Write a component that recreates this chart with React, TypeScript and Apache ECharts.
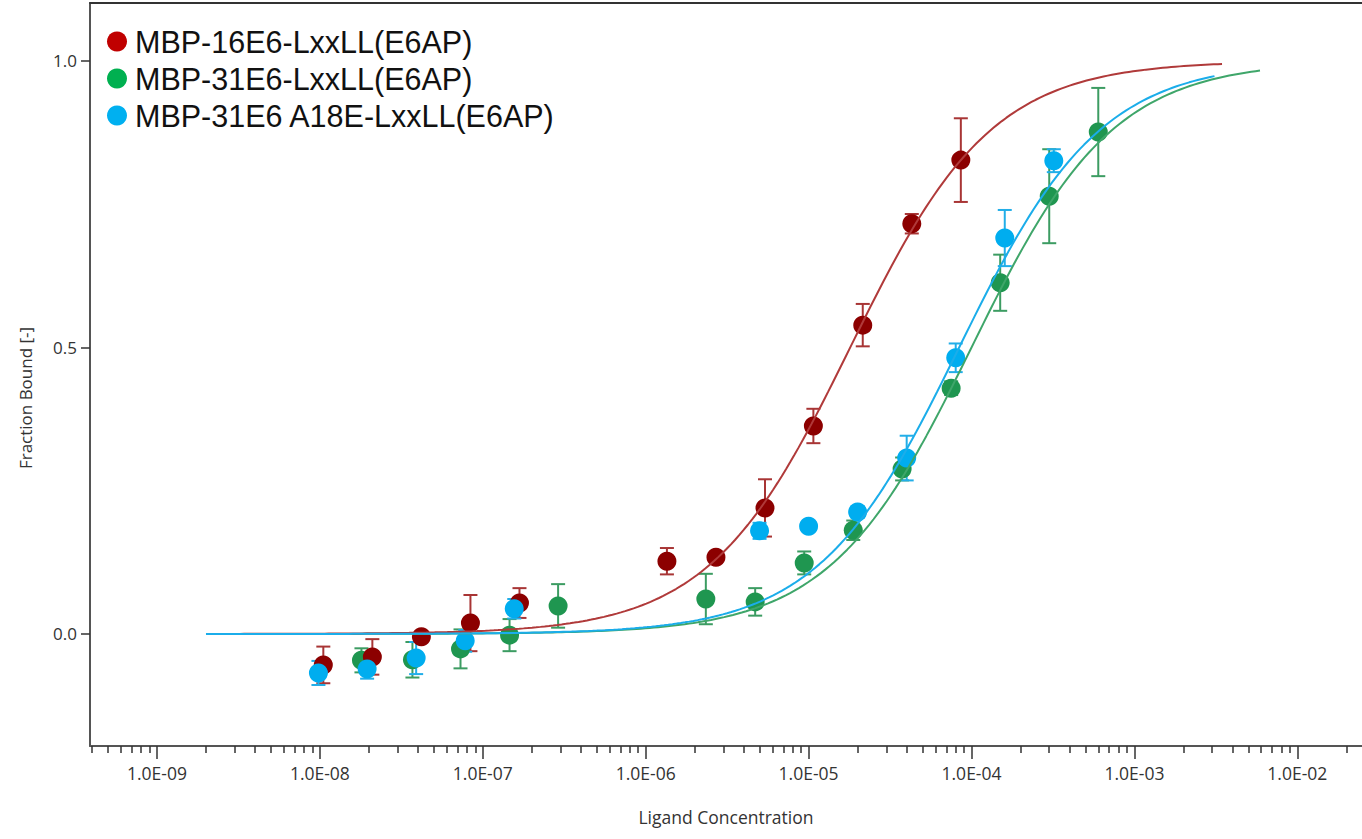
import React, { useEffect, useRef } from "react";
import * as echarts from "echarts";

const seriesNames = ["MBP-16E6-LxxLL(E6AP)", "MBP-31E6-LxxLL(E6AP)", "MBP-31E6 A18E-LxxLL(E6AP)"];

const redConc = [1.05e-8, 2.1e-8, 4.2e-8, 8.4e-8, 1.68e-7, 1.35e-6, 2.7e-6, 5.4e-6, 1.07e-5, 2.15e-5, 4.3e-5, 8.6e-5];
const redFrac = [-0.054, -0.04, -0.005, 0.019, 0.054, 0.127, 0.134, 0.22, 0.363, 0.539, 0.716, 0.827];
const redErr = [0.032, 0.031, 0.008, 0.049, 0.026, 0.023, 0.006, 0.05, 0.03, 0.037, 0.017, 0.073];

const greenConc = [1.8e-8, 3.7e-8, 7.3e-8, 1.46e-7, 2.9e-7, 2.34e-6, 4.7e-6, 9.4e-6, 1.88e-5, 3.75e-5, 7.5e-5, 1.5e-4, 3.0e-4, 6.0e-4];
const greenFrac = [-0.046, -0.045, -0.026, -0.002, 0.049, 0.061, 0.056, 0.124, 0.181, 0.288, 0.429, 0.613, 0.764, 0.876];
const greenErr = [0.021, 0.031, 0.034, 0.028, 0.038, 0.044, 0.024, 0.02, 0.017, 0.02, 0.012, 0.049, 0.082, 0.077];

const blueConc = [9.8e-9, 1.95e-8, 3.9e-8, 7.8e-8, 1.56e-7, 5.0e-6, 1.0e-5, 2.0e-5, 4.0e-5, 8.0e-5, 1.6e-4, 3.2e-4];
const blueFrac = [-0.068, -0.061, -0.042, -0.012, 0.044, 0.18, 0.188, 0.213, 0.307, 0.482, 0.691, 0.826];
const blueErr = [0.021, 0.017, 0.028, 0.019, 0.017, 0.014, 0.004, 0.01, 0.039, 0.025, 0.049, 0.02];

// fitted dissociation constants (1:1 model) and fit ranges
const fitKd = [1.8e-5, 1.0e-4, 8.4e-5];
const fitStart = [2e-9, 2e-9, 2e-9];
const fitEnd = [3.45e-3, 5.9e-3, 3.1e-3];

const majorTicks = [1e-9, 1e-8, 1e-7, 1e-6, 1e-5, 1e-4, 1e-3, 1e-2];
const majorLabels = ["1.0E-09", "1.0E-08", "1.0E-07", "1.0E-06", "1.0E-05", "1.0E-04", "1.0E-03", "1.0E-02"];
const minorMultipliers = [2, 3, 4, 5, 6, 7, 8, 9];
const minorDecades = [1e-10, 1e-9, 1e-8, 1e-7, 1e-6, 1e-5, 1e-4, 1e-3, 1e-2];
const yTicks = [0, 0.5, 1.0];

const xTitle = "Ligand Concentration";
const yTitle = "Fraction Bound [-]";

const X_MIN = -9.411;
const X_MAX = -1.603;
const Y_MIN = -0.1955;
const Y_MAX = 1.1012;

const markerColors = ["#8c0000", "#1f9650", "#00adef"];
const lineColors = ["#b03a3a", "#3fa66a", "#1badea"];
const errColors = ["#a83535", "#3c9c62", "#22aee8"];
const legendColors = ["#c00000", "#00b050", "#00b0f0"];

const FONT = "Open Sans";
const lg = Math.log10;

export default function App() {
  const ref = useRef<HTMLDivElement>(null);
  useEffect(() => {
    if (!ref.current) return;
    const chart = echarts.init(ref.current, undefined, { renderer: "svg" });
    const concs = [redConc, greenConc, blueConc];
    const fracs = [redFrac, greenFrac, blueFrac];
    const errs = [redErr, greenErr, blueErr];

    const minor: number[] = [];
    minorDecades.forEach((d) => minorMultipliers.forEach((m) => {
      const v = lg(m * d);
      if (v > X_MIN && v < X_MAX) minor.push(v);
    }));
    const majorLog = majorTicks.map(lg);

    const errSeries = [1, 0, 2].map((i) => ({
      type: "custom",
      name: "err" + i,
      z: 2,
      xAxisIndex: 0,
      yAxisIndex: 0,
      encode: { x: 0, y: 1 },
      data: concs[i].map((c, k) => [lg(c), fracs[i][k], errs[i][k]]),
      renderItem: (_p: any, api: any) => {
        const x = api.value(0), y = api.value(1), e = api.value(2);
        const t = api.coord([x, y + e]);
        const b = api.coord([x, y - e]);
        const hw = 7;
        const st = { stroke: errColors[i], lineWidth: 2 };
        return {
          type: "group",
          children: [
            { type: "line", shape: { x1: t[0], y1: t[1], x2: b[0], y2: b[1] }, style: st },
            { type: "line", shape: { x1: t[0] - hw, y1: t[1], x2: t[0] + hw, y2: t[1] }, style: st },
            { type: "line", shape: { x1: b[0] - hw, y1: b[1], x2: b[0] + hw, y2: b[1] }, style: st },
          ],
        };
      },
    }));

    const scatterSeries = [1, 0, 2].map((i) => ({
      type: "scatter",
      name: seriesNames[i],
      z: 3,
      symbol: "circle",
      symbolSize: 19,
      itemStyle: { color: markerColors[i], opacity: 1 },
      data: concs[i].map((c, k) => [lg(c), fracs[i][k]]),
    }));

    const lineSeries = [1, 0, 2].map((i) => {
      const pts: number[][] = [];
      const a = lg(fitStart[i]), b = lg(fitEnd[i]);
      const n = 240;
      for (let k = 0; k <= n; k++) {
        const lx = a + ((b - a) * k) / n;
        const c = Math.pow(10, lx);
        pts.push([lx, c / (c + fitKd[i])]);
      }
      return {
        type: "line",
        name: "fit" + i,
        z: 4,
        showSymbol: false,
        symbol: "none",
        lineStyle: { color: lineColors[i], width: 2 },
        data: pts,
      };
    });

    const option: any = {
      animation: false,
      backgroundColor: "#ffffff",
      grid: { left: 90, right: 0, top: 3, bottom: 93, containLabel: false },
      legend: {
        orient: "vertical",
        left: 102,
        top: 21,
        padding: 5,
        itemWidth: 26,
        itemHeight: 20,
        itemGap: 6,
        icon: "circle",
        selectedMode: false,
        textStyle: { fontFamily: "Liberation Sans, Arial", fontSize: 30.5, color: "#111", lineHeight: 26 },
        data: seriesNames.map((n, i) => ({ name: n, itemStyle: { color: legendColors[i] } })),
      },
      graphic: [
        {
          type: "text",
          x: 25,
          y: 398,
          rotation: Math.PI / 2,
          style: { text: yTitle, font: `17px "${FONT}"`, fill: "#333", align: "center", verticalAlign: "middle" },
        },
      ],
      xAxis: [
        {
          type: "value",
          min: X_MIN,
          max: X_MAX,
          position: "bottom",
          name: xTitle,
          nameLocation: "middle",
          nameGap: 62,
          nameTextStyle: { fontFamily: FONT, fontSize: 17.5, color: "#333" },
          axisLine: { show: true, onZero: false, lineStyle: { color: "#555", width: 2 } },
          axisTick: { show: true, customValues: majorLog, length: 13, lineStyle: { color: "#333", width: 1.5 } },
          axisLabel: {
            show: true,
            customValues: majorLog,
            margin: 18,
            fontFamily: FONT,
            fontSize: 17.5,
            color: "#333",
            formatter: (v: number) => {
              const idx = majorLog.findIndex((m) => Math.abs(m - v) < 1e-6);
              return idx >= 0 ? majorLabels[idx] : "";
            },
          },
          splitLine: { show: false },
        },
        {
          type: "value",
          min: X_MIN,
          max: X_MAX,
          position: "bottom",
          axisLine: { show: false, onZero: false },
          axisTick: { show: true, customValues: minor, length: 7, lineStyle: { color: "#333", width: 1.5 } },
          axisLabel: { show: false },
          splitLine: { show: false },
        },
        {
          type: "value",
          min: X_MIN,
          max: X_MAX,
          position: "top",
          axisLine: { show: true, onZero: false, lineStyle: { color: "#333", width: 2 } },
          axisTick: { show: false },
          axisLabel: { show: false },
          splitLine: { show: false },
        },
      ],
      yAxis: {
        type: "value",
        min: Y_MIN,
        max: Y_MAX,
        axisLine: { show: true, onZero: false, lineStyle: { color: "#555", width: 2 } },
        axisTick: { show: true, customValues: yTicks, length: 9, lineStyle: { color: "#333", width: 1.5 } },
        axisLabel: {
          customValues: yTicks,
          margin: 13,
          fontFamily: FONT,
          fontSize: 17,
          color: "#333",
          formatter: (v: number) => v.toFixed(1),
        },
        splitLine: { show: false },
      },
      series: [...errSeries, ...scatterSeries, ...lineSeries],
    };
    chart.setOption(option);
    return () => chart.dispose();
  }, []);
  return (
    <div
      ref={ref}
      style={{ position: "absolute", left: 0, top: 0, width: 1362, height: 839, background: "#fff" }}
    />
  );
}
